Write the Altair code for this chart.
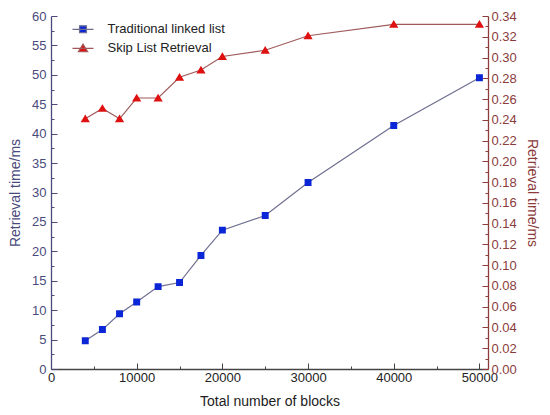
import altair as alt
import pandas as pd

# ---- data ----
blocks = [4000, 6000, 8000, 10000, 12500, 15000, 17500, 20000, 25000, 30000, 40000, 50000]
traditional_ms = [4.8, 6.7, 9.4, 11.4, 14.0, 14.7, 19.3, 23.6, 26.1, 31.7, 41.4, 49.5]
skiplist_ms = [0.241, 0.251, 0.241, 0.261, 0.261, 0.281, 0.288, 0.301, 0.307, 0.321, 0.332, 0.332]
series_names = ["Traditional linked list", "Skip List Retrieval"]

x_ticks = [i * 5000 for i in range(11)]
left_ticks = [i * 2.5 for i in range(25)]
right_ticks = [round(i * 0.01, 2) for i in range(35)]

rows = []
for b, v in zip(blocks, traditional_ms):
    rows.append({"series": series_names[0], "blocks": b, "value": v})
for b, v in zip(blocks, skiplist_ms):
    rows.append({"series": series_names[1], "blocks": b, "value": v})
df = pd.DataFrame(rows)

# ---- styles ----
FONT = "Liberation Sans"
LEFT_C = "#4a4a7c"
RIGHT_C = "#8c3c3c"
LINE_COLORS = ["#6e6e90", "#a05a5a"]
MARK_COLORS = ["#0a26d6", "#de1010"]
SQUARE = "M-1,0H1M-0.33,-0.33H0.33V0.33H-0.33Z"
TRIANGLE = "M-1,0H1M0,-0.4L0.44,0.33H-0.44Z"

legend = alt.Legend(
    title=None, orient="none", legendX=20.5, legendY=1.8, padding=0,
    rowPadding=-2, labelOffset=13, labelFont=FONT, labelFontSize=13,
    labelColor="#222222", symbolSize=441, symbolStrokeWidth=1.2,
)
stroke_enc = alt.Stroke("series:N", scale=alt.Scale(domain=series_names, range=LINE_COLORS), legend=legend)
fill_enc = alt.Fill("series:N", scale=alt.Scale(domain=series_names, range=MARK_COLORS), legend=legend)
shape_enc = alt.Shape("series:N", scale=alt.Scale(domain=series_names, range=[SQUARE, TRIANGLE]), legend=legend)

x_enc = alt.X(
    "blocks:Q",
    scale=alt.Scale(domain=[0, 51000], nice=False),
    axis=alt.Axis(
        title="Total number of blocks", values=x_ticks, format="d",
        labelExpr="datum.value % 10000 === 0 ? datum.label : ''",
        tickSize=alt.ExprRef("-6"),
        tickDash={"condition": {"test": "datum.value % 10000 !== 0", "value": [3, 10]}, "value": [10, 0]},
        labelPadding=8, labelFlush=False, labelOverlap=False, grid=False,
        domainColor="#444444", tickColor="#444444", labelColor="#222222", titleColor="#222222",
        labelFont=FONT, titleFont=FONT, labelFontSize=13, titleFontSize=14,
        titleFontWeight="normal", titlePadding=10, domainWidth=1.3,
    ),
)

left_y = alt.Y(
    "value:Q",
    scale=alt.Scale(domain=[0, 60], nice=False),
    axis=alt.Axis(
        title="Retrieval time/ms", values=left_ticks,
        labelExpr="datum.value % 5 === 0 ? datum.label : ''",
        tickSize=alt.ExprRef("-6"),
        tickDash={"condition": {"test": "datum.value % 5 !== 0", "value": [3, 10]}, "value": [10, 0]},
        labelPadding=11, labelFlush=False, labelOverlap=False, grid=False,
        domainColor=LEFT_C, tickColor=LEFT_C, labelColor=LEFT_C, titleColor=LEFT_C,
        labelFont=FONT, titleFont=FONT, labelFontSize=13, titleFontSize=14,
        titleFontWeight="normal", titlePadding=9, domainWidth=1.3,
    ),
)

right_y = alt.Y(
    "value:Q",
    scale=alt.Scale(domain=[0, 0.34], nice=False),
    axis=alt.Axis(
        title="Retrieval time/ms", values=right_ticks, format=".2f", orient="right",
        labelExpr="round(datum.value * 100) % 2 === 0 ? datum.label : ''",
        tickSize=alt.ExprRef("-6"),
        tickDash={"condition": {"test": "round(datum.value * 100) % 2 !== 0", "value": [3, 10]}, "value": [10, 0]},
        labelPadding=9, labelFlush=False, labelOverlap=False, grid=False,
        domainColor=RIGHT_C, tickColor=RIGHT_C, labelColor=RIGHT_C, titleColor=RIGHT_C,
        labelFont=FONT, titleFont=FONT, labelFontSize=13, titleFontSize=14,
        titleFontWeight="normal", titlePadding=8, domainWidth=1.3,
    ),
)

base = alt.Chart(df)

blue = base.transform_filter(alt.datum.series == series_names[0])
red = base.transform_filter(alt.datum.series == series_names[1])

blue_line = blue.mark_line(strokeWidth=1.2).encode(x=x_enc, y=left_y, stroke=stroke_enc)
blue_pts = blue.mark_point(filled=True, size=441, opacity=1).encode(x=x_enc, y=left_y, fill=fill_enc, shape=shape_enc)
red_line = red.mark_line(strokeWidth=1.2).encode(x=x_enc, y=right_y, stroke=stroke_enc)
red_pts = red.mark_point(filled=True, size=441, opacity=1).encode(x=x_enc, y=right_y, fill=fill_enc, shape=shape_enc)

chart = (
    alt.layer(alt.layer(blue_line, blue_pts), alt.layer(red_line, red_pts))
    .resolve_scale(y="independent")
    .properties(
        width=437, height=353, autosize="none",
        padding={"left": 43, "top": 8, "right": 52, "bottom": 41},
        background="white",
    )
    .configure_view(stroke=None)
)

chart.save("out.html", embed_options={"renderer": "svg", "actions": False})
